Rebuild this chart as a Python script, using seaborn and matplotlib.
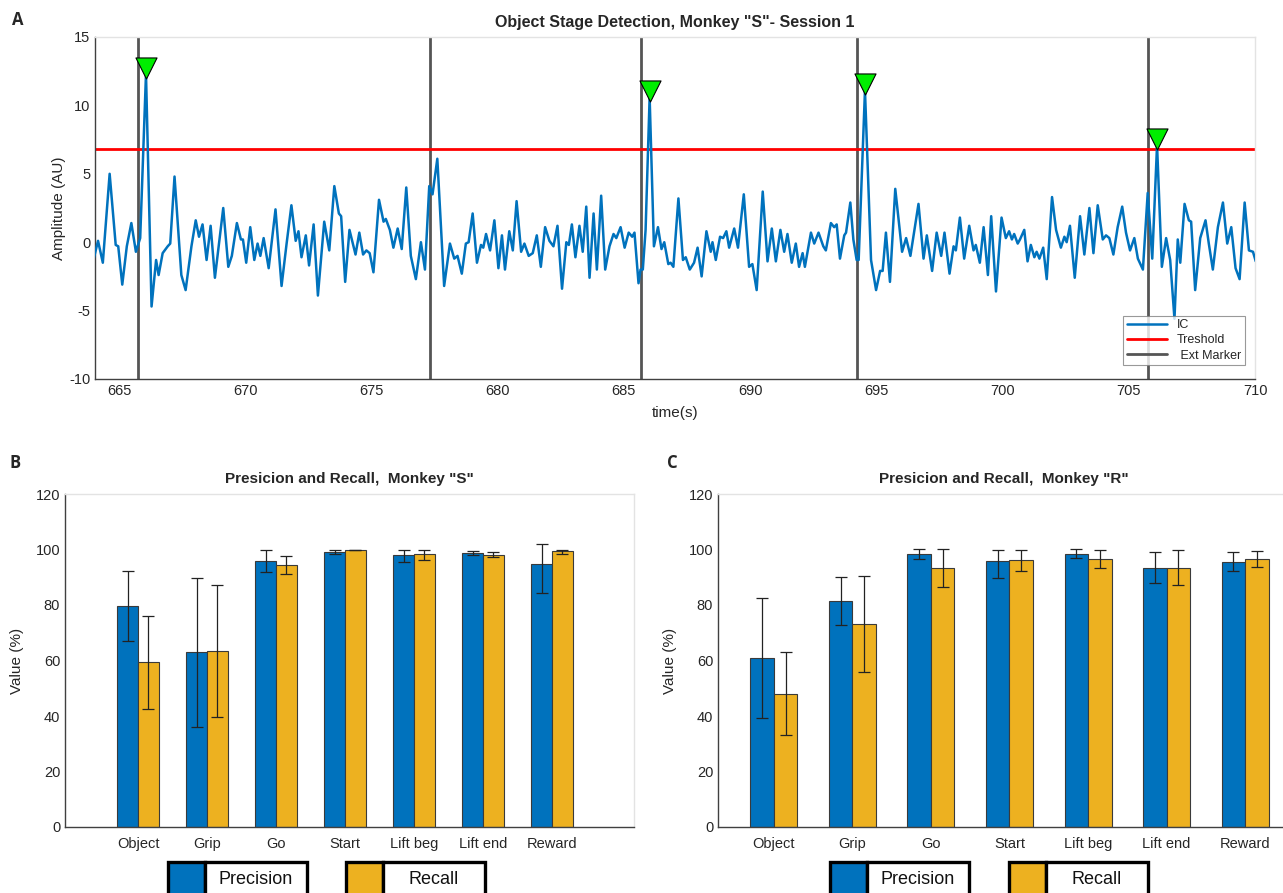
import numpy as np
import pandas as pd
import matplotlib
matplotlib.use("Agg")
import matplotlib.pyplot as plt
from matplotlib.patches import Rectangle
import seaborn as sns

# ---------------- data: panel A (IC trace) ----------------
ic_time = [
    664.00, 664.17, 664.36, 664.63, 664.87, 664.97, 665.13, 665.31, 665.49, 665.67,
    665.84, 666.07, 666.29, 666.47, 666.57, 666.73, 666.93, 667.03, 667.20, 667.47,
    667.64, 667.87, 668.04, 668.17, 668.31, 668.47, 668.63, 668.80, 669.13, 669.33,
    669.47, 669.67, 669.83, 669.91, 670.04, 670.20, 670.36, 670.49, 670.60, 670.73,
    670.93, 671.20, 671.44, 671.64, 671.83, 672.00, 672.11, 672.23, 672.40, 672.53,
    672.71, 672.88, 673.13, 673.33, 673.53, 673.71, 673.80, 673.96, 674.13, 674.37,
    674.52, 674.67, 674.80, 674.93, 675.08, 675.30, 675.48, 675.57, 675.73, 675.87,
    676.04, 676.20, 676.38, 676.56, 676.76, 676.96, 677.12, 677.29, 677.42, 677.61,
    677.88, 678.11, 678.28, 678.41, 678.58, 678.74, 678.85, 679.01, 679.18, 679.34,
    679.43, 679.54, 679.70, 679.87, 680.03, 680.17, 680.29, 680.46, 680.60, 680.75,
    680.93, 681.06, 681.23, 681.39, 681.55, 681.71, 681.88, 682.05, 682.21, 682.37,
    682.55, 682.72, 682.82, 682.94, 683.08, 683.24, 683.37, 683.51, 683.64, 683.80,
    683.93, 684.10, 684.26, 684.43, 684.59, 684.70, 684.87, 685.03, 685.19, 685.33,
    685.42, 685.58, 685.66, 685.75, 685.86, 686.02, 686.19, 686.35, 686.49, 686.60,
    686.76, 686.85, 686.96, 687.16, 687.34, 687.45, 687.61, 687.78, 687.92, 688.08,
    688.27, 688.44, 688.51, 688.64, 688.81, 688.93, 689.06, 689.17, 689.37, 689.52,
    689.75, 689.96, 690.09, 690.26, 690.50, 690.69, 690.86, 691.02, 691.20, 691.35,
    691.48, 691.65, 691.81, 691.94, 692.08, 692.17, 692.41, 692.54, 692.71, 692.90,
    693.00, 693.20, 693.33, 693.43, 693.56, 693.73, 693.80, 693.97, 694.09, 694.22,
    694.30, 694.55, 694.79, 694.99, 695.15, 695.25, 695.38, 695.54, 695.75, 696.02,
    696.18, 696.35, 696.67, 696.87, 697.00, 697.21, 697.39, 697.57, 697.70, 697.90,
    698.06, 698.15, 698.31, 698.48, 698.68, 698.85, 698.94, 699.10, 699.25, 699.42,
    699.55, 699.74, 699.96, 700.13, 700.26, 700.37, 700.46, 700.60, 700.69, 700.86,
    700.99, 701.12, 701.26, 701.35, 701.46, 701.61, 701.75, 701.96, 702.12, 702.31,
    702.45, 702.54, 702.67, 702.86, 703.07, 703.24, 703.44, 703.60, 703.77, 703.97,
    704.10, 704.23, 704.39, 704.56, 704.74, 704.89, 705.05, 705.22, 705.36, 705.56,
    705.75, 705.93, 706.12, 706.31, 706.48, 706.64, 706.81, 706.94, 707.04, 707.21,
    707.38, 707.47, 707.63, 707.83, 708.04, 708.17, 708.33, 708.53, 708.73, 708.90,
    709.06, 709.23, 709.39, 709.59, 709.76, 709.92, 710.03,
]
ic_amp = [
    -1.2, 0.1, -1.5, 5.0, -0.2, -0.3, -3.1, -0.3, 1.4, -0.7,
    0.3, 12.3, -4.7, -1.3, -2.4, -0.8, -0.3, -0.1, 4.8, -2.4,
    -3.5, -0.3, 1.6, 0.4, 1.3, -1.3, 1.2, -2.6, 2.5, -1.8,
    -1.0, 1.4, 0.2, 0.2, -1.5, 1.1, -1.3, -0.1, -1.0, 0.3,
    -1.9, 2.4, -3.2, -0.1, 2.7, 0.1, 0.8, -1.1, 0.5, -1.7,
    1.3, -3.9, 1.5, -0.6, 4.1, 2.1, 1.9, -2.9, 0.9, -0.9,
    0.7, -0.9, -0.6, -0.8, -2.2, 3.1, 1.5, 1.7, 0.9, -0.4,
    1.0, -0.5, 4.0, -1.0, -2.7, 0.0, -2.0, 4.1, 3.5, 6.1,
    -3.2, -0.1, -1.2, -1.0, -2.3, -0.1, 0.0, 2.1, -1.5, -0.2,
    -0.4, 0.6, -0.6, 1.6, -1.9, 0.5, -2.0, 0.8, -0.6, 3.0,
    -0.7, -0.1, -1.0, -0.8, 0.5, -1.8, 1.1, 0.1, -0.3, 1.2,
    -3.4, 0.0, -0.2, 1.3, -1.1, 1.2, -0.7, 2.6, -2.6, 2.1,
    -2.0, 3.4, -2.0, -0.3, 0.6, 0.3, 1.1, -0.4, 0.7, 0.4,
    0.7, -3.0, -2.0, -2.0, 0.9, 10.6, -0.3, 1.1, -0.5, 0.0,
    -1.6, -1.5, -1.8, 3.2, -1.3, -1.1, -2.0, -1.5, -0.4, -2.5,
    0.8, -0.7, 0.0, -1.3, 0.4, 0.3, 0.8, -0.4, 1.0, -0.4,
    3.5, -1.8, -1.6, -3.5, 3.7, -1.4, 1.0, -1.4, 0.9, -0.7,
    0.6, -1.5, -0.1, -1.8, -0.8, -1.8, 0.7, -0.1, 0.7, -0.3,
    -0.6, 1.4, 1.1, 1.3, -1.2, 0.5, 0.7, 2.9, 0.2, -1.3,
    -1.3, 11.1, -1.3, -3.5, -2.1, -2.1, 0.7, -2.9, 3.9, -0.7,
    0.3, -1.0, 2.8, -1.2, 0.5, -2.1, 0.7, -1.0, 0.7, -2.3,
    -0.3, -0.6, 1.8, -1.2, 1.2, -0.6, -0.2, -1.5, 1.1, -2.4,
    1.9, -3.6, 1.8, 0.3, 0.8, 0.2, 0.6, -0.1, 0.2, 0.9,
    -1.4, -0.2, -1.1, -0.7, -1.2, -0.4, -2.7, 3.3, 0.9, -0.4,
    0.4, 0.0, 1.2, -2.6, 1.9, -0.9, 2.5, -0.8, 2.7, 0.2,
    0.5, 0.3, -0.9, 1.1, 2.6, 0.7, -0.6, 0.3, -1.2, -2.0,
    3.6, -1.2, 7.1, -1.8, 0.3, -1.3, -5.6, 0.2, -1.5, 2.8,
    1.6, 1.5, -3.5, 0.3, 1.6, -0.1, -2.0, 1.1, 2.9, -0.1,
    1.1, -1.9, -2.7, 2.9, -0.6, -0.7, -1.4,
]
threshold = 6.8
ext_markers = [665.75, 677.31, 685.68, 694.22, 705.76]
peak_time = [666.07, 686.02, 694.55, 706.12]
peak_amp = [12.3, 10.6, 11.1, 7.1]

# ---------------- data: panels B and C ----------------
stages = ["Object", "Grip", "Go", "Start", "Lift beg", "Lift end", "Reward"]

s_precision = [79.7, 63.0, 96.0, 99.2, 98.0, 98.8, 94.9]
s_precision_lo = [67.0, 36.0, 91.9, 98.4, 95.6, 97.9, 84.2]
s_precision_hi = [92.4, 89.8, 100.0, 100.0, 100.0, 99.6, 101.9]
s_recall = [59.3, 63.5, 94.4, 100.0, 98.3, 98.0, 99.5]
s_recall_lo = [42.6, 39.8, 91.1, 100.0, 96.1, 97.2, 98.5]
s_recall_hi = [76.0, 87.2, 97.8, 100.0, 100.0, 99.0, 100.0]

r_precision = [60.8, 81.5, 98.5, 96.0, 98.5, 93.5, 95.6]
r_precision_lo = [39.1, 72.8, 96.7, 89.8, 97.0, 87.8, 92.3]
r_precision_hi = [82.7, 90.2, 100.2, 100.0, 100.1, 99.1, 99.1]
r_recall = [48.1, 73.1, 93.4, 96.1, 96.5, 93.5, 96.4]
r_recall_lo = [33.2, 55.8, 86.5, 92.2, 93.2, 87.1, 93.6]
r_recall_hi = [63.0, 90.4, 100.2, 100.0, 99.7, 100.0, 99.4]

BLUE = "#0072BD"
GOLD = "#EDB120"

sns.set_theme(style="white")
plt.rcParams["font.family"] = ["Liberation Sans", "DejaVu Sans"]
plt.rcParams["axes.unicode_minus"] = False
plt.rcParams["xtick.direction"] = "in"
plt.rcParams["ytick.direction"] = "in"

W, H = 1283, 893
fig = plt.figure(figsize=(W / 100, H / 100), dpi=100)


def px_axes(left, top, right, bottom):
    return fig.add_axes([left / W, 1 - bottom / H, (right - left) / W, (bottom - top) / H])


def style_box(ax):
    for side in ["top", "right"]:
        ax.spines[side].set_color("#e3e3e3")
        ax.spines[side].set_linewidth(1.0)
    for side in ["left", "bottom"]:
        ax.spines[side].set_color("#404040")
        ax.spines[side].set_linewidth(1.0)
    ax.tick_params(axis="both", colors="#404040", labelcolor="#262626",
                   length=5, width=0.8, labelsize=10.5)


# ---------------- panel A ----------------
axA = px_axes(95, 37, 1255, 379)
trace = pd.DataFrame({"t": ic_time, "amp": ic_amp})
for i, xm in enumerate(ext_markers):
    axA.axvline(xm, color="#555555", lw=2, zorder=1,
                label=" Ext Marker" if i == 0 else None)
sns.lineplot(data=trace, x="t", y="amp", ax=axA, color=BLUE, lw=1.8,
             sort=False, label="IC", zorder=3)
axA.axhline(threshold, color="red", lw=2, zorder=2, label="Treshold")
sns.scatterplot(x=peak_time, y=[a + 0.45 for a in peak_amp], ax=axA, marker="v",
                s=230, color="#00ee00", edgecolor="black", linewidth=0.8, zorder=5)
axA.set_xlim(664.05, 710)
axA.set_ylim(-10, 15)
axA.set_xticks(np.arange(665, 711, 5))
axA.set_yticks(np.arange(-10, 16, 5))
style_box(axA)
axA.set_xlabel("time(s)", fontsize=11, color="#262626", labelpad=6)
axA.set_ylabel("Amplitude (AU)", fontsize=11, color="#262626", labelpad=2)
axA.set_title('Object Stage Detection, Monkey "S"- Session 1', fontsize=11.5,
              fontweight="bold", pad=7)
h, l = axA.get_legend_handles_labels()
order = [l.index("IC"), l.index("Treshold"), l.index(" Ext Marker")]
leg = axA.legend([h[i] for i in order], [l[i] for i in order], loc="lower right",
                 bbox_to_anchor=(0.991, 0.04), borderaxespad=0, fontsize=9,
                 frameon=True, fancybox=False, edgecolor="#808080",
                 handlelength=3.2, borderpad=0.3, labelspacing=0.25)
leg.get_frame().set_linewidth(0.8)
leg.set_zorder(10)


# ---------------- panels B / C ----------------
def bar_panel(ax, prec, prec_lo, prec_hi, rec, rec_lo, rec_hi, title, xlim):
    df = pd.DataFrame({
        "stage": stages * 2,
        "metric": ["Precision"] * len(stages) + ["Recall"] * len(stages),
        "value": prec + rec,
    })
    sns.barplot(data=df, x="stage", y="value", hue="metric", order=stages,
                hue_order=["Precision", "Recall"], palette=[BLUE, GOLD],
                width=0.6, errorbar=None, edgecolor="#3a3a3a", linewidth=0.8,
                legend=False, ax=ax, saturation=1)
    errs = [(prec, prec_lo, prec_hi), (rec, rec_lo, rec_hi)]
    for cont, (vals, lo, hi) in zip(ax.containers, errs):
        xs = [b.get_x() + b.get_width() / 2 for b in cont]
        yerr = [[v - a for v, a in zip(vals, lo)], [b - v for v, b in zip(vals, hi)]]
        ax.errorbar(xs, vals, yerr=yerr, fmt="none", ecolor="#222222",
                    elinewidth=0.9, capsize=4, capthick=0.9, zorder=4)
    ax.set_ylim(0, 120)
    ax.set_yticks(np.arange(0, 121, 20))
    ax.set_xlim(*xlim)
    style_box(ax)
    ax.tick_params(axis="x", length=4, pad=7)
    ax.set_xlabel("")
    ax.set_ylabel("Value (%)", fontsize=11, color="#262626", labelpad=8)
    ax.set_title(title, fontsize=11, fontweight="bold", pad=8)


axB = px_axes(65, 494, 634, 827)
bar_panel(axB, s_precision, s_precision_lo, s_precision_hi,
          s_recall, s_recall_lo, s_recall_hi,
          'Presicion and Recall,  Monkey "S"', (-1.06, 7.19))

axC = px_axes(718, 494, 1290, 827)
bar_panel(axC, r_precision, r_precision_lo, r_precision_hi,
          r_recall, r_recall_lo, r_recall_hi,
          'Presicion and Recall,  Monkey "R"', (-0.71, 6.57))


# ---------------- custom legend boxes under bar panels ----------------
def legend_box(x0, x1, swatch_w, color, label):
    y0, y1 = 862, 900
    fig.add_artist(Rectangle((x0 / W, 1 - y1 / H), swatch_w / W, (y1 - y0) / H,
                             transform=fig.transFigure, facecolor=color,
                             edgecolor="black", lw=2.4))
    fig.add_artist(Rectangle(((x0 + swatch_w) / W, 1 - y1 / H), (x1 - x0 - swatch_w) / W,
                             (y1 - y0) / H, transform=fig.transFigure,
                             facecolor="white", edgecolor="black", lw=2.4))
    fig.text((x0 + swatch_w + x1) / 2 / W, 1 - 879 / H, label, ha="center",
             va="center", fontsize=13, color="#111111")


legend_box(168, 307, 37, BLUE, "Precision")
legend_box(346, 485, 37, GOLD, "Recall")
legend_box(830, 969, 37, BLUE, "Precision")
legend_box(1009, 1148, 37, GOLD, "Recall")

# panel letters
for x, y, s in [(18, 20, "A"), (15, 463, "B"), (672, 463, "C")]:
    fig.text(x / W, 1 - y / H, s, fontsize=12, fontweight="bold",
             family=["Open Sans", "DejaVu Sans"], ha="center", va="center")

fig.savefig("out.png", dpi=100)
